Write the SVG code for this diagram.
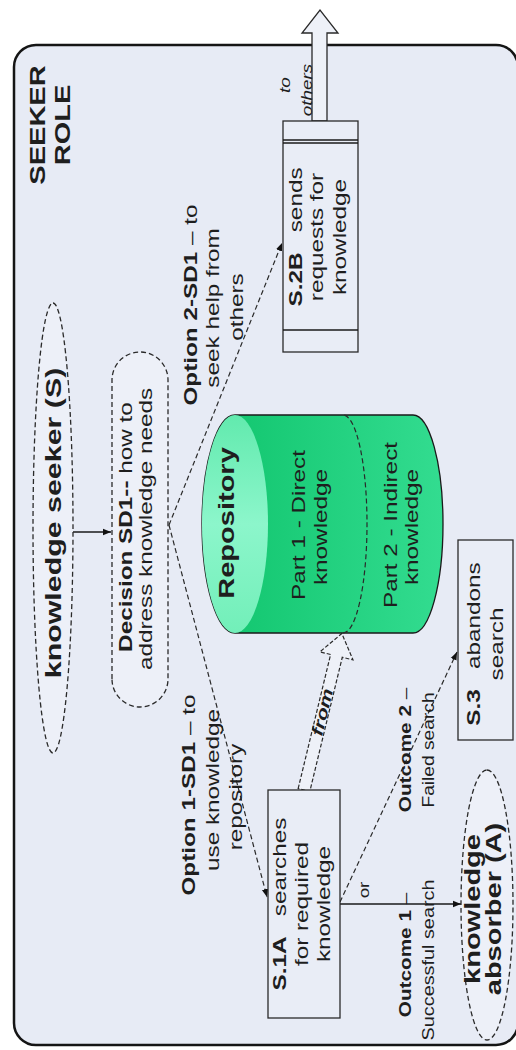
<svg xmlns="http://www.w3.org/2000/svg" width="516" height="1050" viewBox="0 0 516 1050">
  <defs>
    <style>
      .frame { fill: #e7ebf5; stroke: #151515; stroke-width: 2.5; }
      .box { fill: #e9edf6; stroke: #2a2a2a; stroke-width: 1.3; }
      .oval { fill: #edf0f8; stroke: #2a2a2a; stroke-width: 1.3; stroke-dasharray: 5 3; }
      .dash { fill: none; stroke: #2a2a2a; stroke-width: 1.2; stroke-dasharray: 5 3; }
      .solid { fill: none; stroke: #1a1a1a; stroke-width: 1.3; }
      .block { fill: #eef1f8; stroke: #2a2a2a; stroke-width: 1.3; }
      .t { font-family: "Liberation Sans", Arial, sans-serif; fill: #1e1e1e; text-anchor: middle; }
      .s14 { font-size: 14px; }
      .s15 { font-size: 15px; }
      .s16 { font-size: 16px; }
      .s17 { font-size: 17px; }
      .s18 { font-size: 18px; }
      .s21 { font-size: 21.5px; }
      .s22 { font-size: 22.5px; }
      .b { font-weight: bold; }
      .i { font-style: italic; }
    </style>
    <marker id="ah" viewBox="0 0 10 10" refX="10" refY="5" markerWidth="8" markerHeight="8" orient="auto" markerUnits="userSpaceOnUse">
      <path d="M0,1 L10,5 L0,9 Z" fill="#111"/>
    </marker>
    <linearGradient id="body" x1="0" y1="0" x2="0" y2="1">
      <stop offset="0" stop-color="#0fc46c"/>
      <stop offset="1" stop-color="#33dc90"/>
    </linearGradient>
    <linearGradient id="cap" x1="0" y1="0" x2="1" y2="0">
      <stop offset="0" stop-color="#72efb9"/>
      <stop offset="0.5" stop-color="#8cf6cb"/>
      <stop offset="1" stop-color="#62eaae"/>
    </linearGradient>
  </defs>

  <rect width="516" height="1050" fill="#ffffff"/>

  <!-- drawing is laid out landscape and turned a quarter turn -->
  <g transform="translate(0,1050) rotate(-90)">
    <g id="seeker-role">
      <rect class="frame" x="5" y="14" width="1000" height="504" rx="22"/>
      <text class="t b s21" transform="translate(925 45) scale(1.35 1)">
        <tspan x="0" y="0">SEEKER</tspan><tspan x="0" y="25">ROLE</tspan>
      </text>
    </g>

    <g id="connectors">
      <line class="solid" x1="518" y1="73" x2="518" y2="111" marker-end="url(#ah)"/>
      <line class="dash" x1="525" y1="169" x2="807" y2="282" marker-end="url(#ah)"/>
      <line class="dash" x1="525" y1="169" x2="153" y2="267" marker-end="url(#ah)"/>
      <line class="solid" x1="146" y1="340" x2="146" y2="461" marker-end="url(#ah)"/>
      <line class="dash" x1="148" y1="340" x2="398" y2="457" marker-end="url(#ah)"/>
      <!-- block arrow out to others -->
      <polygon class="block" points="929,312 1017,312 1017,302 1040,320 1017,338 1017,327 929,327"/>
      <text class="t i s14" transform="translate(965 290) scale(1.35 1)">to</text>
      <text class="t i s14" transform="translate(960 312) scale(1.35 1)">others</text>
      <!-- block arrow from repository -->
      <g transform="translate(260 304) rotate(13.6)">
        <polygon points="0,-6 138,-6 138,-17 161,0 138,17 138,6 0,6" fill="#eef1f8" stroke="#2a2a2a" stroke-width="1.2" stroke-dasharray="4 2"/>
        <text class="t b i s16" transform="translate(80 5) scale(1.35 1)">from</text>
      </g>
      <!-- labels -->
      <text class="t s18" transform="translate(745 197) scale(1.35 1)"><tspan class="b">Option 2-SD1</tspan> – to</text>
      <text class="t s18" transform="translate(742 219) scale(1.35 1)">seek help from</text>
      <text class="t s18" transform="translate(743 243) scale(1.35 1)">others</text>
      <text class="t s18" transform="translate(255 195) scale(1.35 1)"><tspan class="b">Option 1-SD1</tspan> – to</text>
      <text class="t s18" transform="translate(260 219) scale(1.35 1)">use knowledge</text>
      <text class="t s18" transform="translate(253 242) scale(1.35 1)">repository</text>
      <text class="t s15" transform="translate(160 369) scale(1.25 1)">or</text>
      <text class="t s17" transform="translate(300 411) scale(1.22 1)"><tspan class="b">Outcome 2</tspan> –</text>
      <text class="t s16" transform="translate(300 434) scale(1.2 1)">Failed search</text>
      <text class="t s17" transform="translate(95 411) scale(1.22 1)"><tspan class="b">Outcome 1</tspan> –</text>
      <text class="t s16" transform="translate(90 434) scale(1.24 1)">Successful search</text>
    </g>

    <g id="knowledge-seeker">
      <ellipse class="oval" cx="522" cy="53" rx="225" ry="20"/>
      <text class="t b s22" transform="translate(527 61) scale(1.35 1)">knowledge seeker (S)</text>
    </g>

    <g id="decision-sd1">
      <rect class="oval" x="343" y="112" width="355" height="56" rx="28"/>
      <text class="t s18" transform="translate(523 132) scale(1.35 1)"><tspan class="b">Decision SD1--</tspan> how to</text>
      <text class="t s18" transform="translate(521 152) scale(1.35 1)">address knowledge needs</text>
    </g>

    <g id="repository">
      <path d="M417,235 L417,413 A109,30 0 0 0 635,413 L635,235 A109,33 0 0 0 417,235 Z" fill="url(#body)" stroke="#1a1a1a" stroke-width="1.3"/>
      <ellipse cx="526" cy="235" rx="109" ry="33" fill="url(#cap)"/>
      <path d="M417,343 A109,24 0 0 0 635,343" class="dash"/>
      <text class="t b s21" transform="translate(527 234) scale(1.35 1)">Repository</text>
      <text class="t s18" transform="translate(525 305) scale(1.35 1)">Part 1 - Direct</text>
      <text class="t s18" transform="translate(523 327) scale(1.35 1)">knowledge</text>
      <text class="t s18" transform="translate(525 397) scale(1.35 1)">Part 2 - Indirect</text>
      <text class="t s18" transform="translate(523 418) scale(1.35 1)">knowledge</text>
    </g>

    <g id="s2b-sends-requests">
      <rect class="box" x="698" y="283" width="231" height="75"/>
      <line class="solid" x1="720" y1="283" x2="720" y2="358"/>
      <line class="solid" x1="907" y1="283" x2="907" y2="358"/>
      <line class="solid" x1="910" y1="283" x2="910" y2="358"/>
      <text class="t s18" transform="translate(813 302) scale(1.35 1)"><tspan class="b">S.2B</tspan>&#160;&#160;&#160;sends</text>
      <text class="t s18" transform="translate(813 323) scale(1.35 1)">requests for</text>
      <text class="t s18" transform="translate(813 346) scale(1.35 1)">knowledge</text>
    </g>

    <g id="s1a-searches">
      <rect class="box" x="32" y="268" width="228" height="72"/>
      <text class="t s18" transform="translate(146 286) scale(1.35 1)"><tspan class="b">S.1A</tspan>&#160;&#160;&#160;searches</text>
      <text class="t s18" transform="translate(146 308) scale(1.35 1)">for required</text>
      <text class="t s18" transform="translate(146 330) scale(1.35 1)">knowledge</text>
    </g>

    <g id="s3-abandons">
      <rect class="box" x="310" y="458" width="200" height="55"/>
      <text class="t s18" transform="translate(406 480) scale(1.35 1)"><tspan class="b">S.3</tspan>&#160;&#160;&#160;abandons</text>
      <text class="t s18" transform="translate(406 503) scale(1.35 1)">search</text>
    </g>

    <g id="knowledge-absorber">
      <ellipse class="oval" cx="145" cy="487" rx="135" ry="26"/>
      <text class="t b s21" transform="translate(141 480) scale(1.35 1)">knowledge</text>
      <text class="t b s21" transform="translate(141 501) scale(1.35 1)">absorber (A)</text>
    </g>
  </g>
</svg>
